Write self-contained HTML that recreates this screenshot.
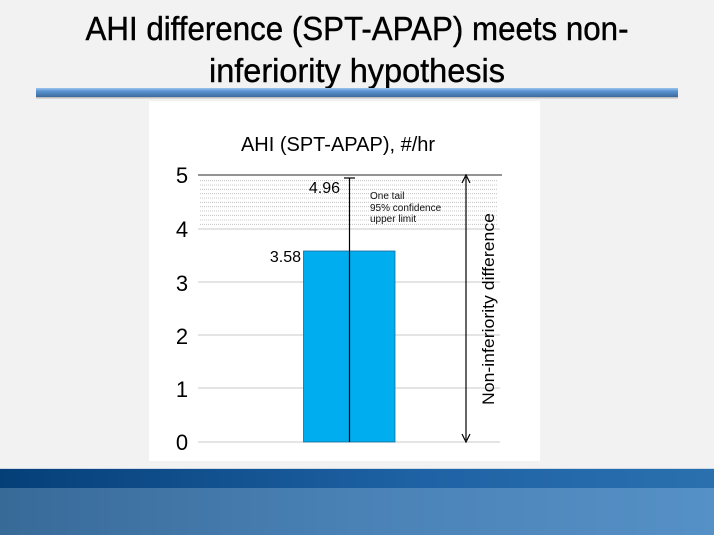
<!DOCTYPE html>
<html><head><meta charset="utf-8"><style>
html,body{margin:0;padding:0;width:714px;height:535px;overflow:hidden;background:#f2f2f2}
svg{display:block}
</style></head><body>
<svg width="714" height="535" viewBox="0 0 714 535" xmlns="http://www.w3.org/2000/svg">
<defs>
<linearGradient id="rule" x1="0" y1="0" x2="0" y2="1">
<stop offset="0" stop-color="#9cc4ee"/><stop offset="0.35" stop-color="#5b93d2"/><stop offset="1" stop-color="#3b6a9c"/>
</linearGradient>
<linearGradient id="band1" x1="0" y1="0" x2="1" y2="0">
<stop offset="0" stop-color="#053f78"/><stop offset="0.6" stop-color="#1f63a6"/><stop offset="1" stop-color="#2a70ae"/>
</linearGradient>
<linearGradient id="band2" x1="0" y1="0" x2="1" y2="0">
<stop offset="0" stop-color="#386a98"/><stop offset="0.5" stop-color="#4a82b6"/><stop offset="1" stop-color="#5590c6"/>
</linearGradient>
</defs>
<g font-family="Liberation Sans, sans-serif" fill="#000" stroke="#000" stroke-width="0.4">
<text x="357" y="40" font-size="33" text-anchor="middle" textLength="543" lengthAdjust="spacingAndGlyphs">AHI difference (SPT-APAP) meets non-</text>
<text x="357" y="82" font-size="33" text-anchor="middle" textLength="296" lengthAdjust="spacingAndGlyphs">inferiority hypothesis</text>
</g>
<rect x="36" y="88" width="642" height="9" fill="url(#rule)"/>
<rect x="36" y="97" width="642" height="1.5" fill="#9a9a9a" opacity="0.6"/>
<rect x="149" y="101" width="391" height="360" fill="#fff"/>
<rect x="0" y="468" width="714" height="1" fill="#cfd9e6"/>
<rect x="0" y="469" width="714" height="19" fill="url(#band1)"/>
<rect x="0" y="488" width="714" height="47" fill="url(#band2)"/>
<g font-family="Liberation Sans, sans-serif">
<text x="338" y="151" font-size="20" text-anchor="middle">AHI (SPT-APAP), #/hr</text>
<g stroke="#bbb" stroke-width="0.8" stroke-dasharray="1,1">
<line x1="200" y1="180.7" x2="498" y2="180.7"/><line x1="200" y1="185" x2="498" y2="185"/>
<line x1="200" y1="189.3" x2="498" y2="189.3"/><line x1="200" y1="193.7" x2="498" y2="193.7"/>
<line x1="200" y1="198" x2="498" y2="198"/><line x1="200" y1="202.3" x2="498" y2="202.3"/>
<line x1="200" y1="206.7" x2="498" y2="206.7"/><line x1="200" y1="211" x2="498" y2="211"/>
<line x1="200" y1="215.3" x2="498" y2="215.3"/><line x1="200" y1="220" x2="498" y2="220"/>
<line x1="200" y1="224.3" x2="498" y2="224.3"/>
</g>
<g stroke="#c8c8c8" stroke-width="1">
<line x1="198" y1="229" x2="500" y2="229"/><line x1="198" y1="282" x2="500" y2="282"/>
<line x1="198" y1="335" x2="500" y2="335"/><line x1="198" y1="388" x2="500" y2="388"/>
<line x1="198" y1="442" x2="500" y2="442"/>
</g>
<line x1="198" y1="175" x2="502" y2="175" stroke="#555" stroke-width="1.3"/>
<g font-size="22" text-anchor="middle">
<text x="182" y="183">5</text><text x="182" y="237">4</text><text x="182" y="291">3</text>
<text x="182" y="344">2</text><text x="182" y="397">1</text><text x="182" y="450">0</text>
</g>
<rect x="303.5" y="251" width="91.5" height="191" fill="#00adef" stroke="#1a6a9a" stroke-width="0.8"/>
<line x1="349.5" y1="178" x2="349.5" y2="442" stroke="#000" stroke-width="1.2"/>
<line x1="344" y1="178" x2="355" y2="178" stroke="#000" stroke-width="1.2"/>
<text x="301" y="262" font-size="16" text-anchor="end">3.58</text>
<text x="340" y="193" font-size="16" text-anchor="end">4.96</text>
<g font-size="10" fill="#111">
<text x="370" y="199">One tail</text>
<text x="370" y="211">95% confidence</text>
<text x="370" y="222">upper limit</text>
</g>
<line x1="466" y1="177" x2="466" y2="440" stroke="#000" stroke-width="1.2"/>
<path d="M462 183 L466 175 L470 183" fill="none" stroke="#000" stroke-width="1.2"/>
<path d="M462 434 L466 442 L470 434" fill="none" stroke="#000" stroke-width="1.2"/>
<text transform="translate(494,309) rotate(-90)" font-size="17" text-anchor="middle" textLength="192" lengthAdjust="spacingAndGlyphs">Non-inferiority difference</text>
</g>
</svg>
</body></html>
